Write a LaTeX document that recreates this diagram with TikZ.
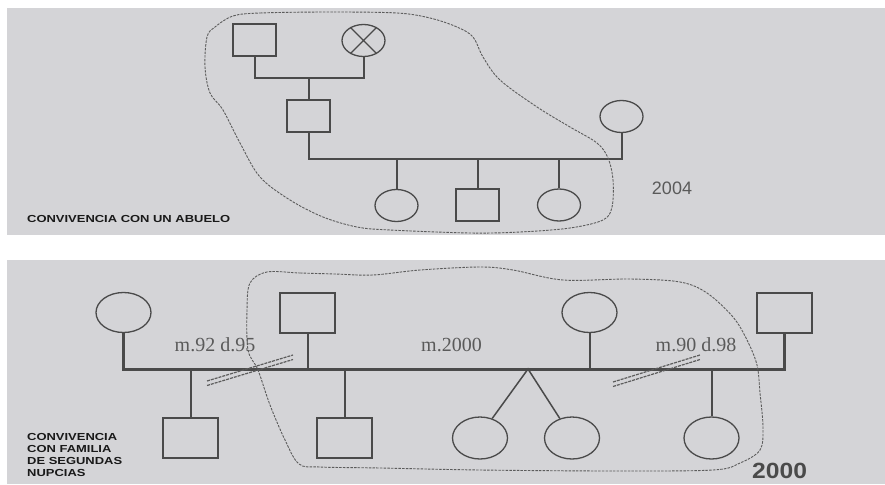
\documentclass[tikz,border=0pt]{standalone}
\usepackage{fontspec}
\usepackage{graphicx}
\setmainfont{Liberation Serif}
\setsansfont{Liberation Sans}
\usetikzlibrary{calc,shapes.geometric}

\definecolor{panel}{RGB}{212,212,215}
\definecolor{ink}{RGB}{74,74,74}
\definecolor{blob}{RGB}{92,92,92}
\definecolor{label}{RGB}{90,90,90}

\newcommand{\stretchtxt}[1]{\scalebox{1.27}[1]{#1}}

\tikzset{
  male/.style={rectangle, draw=ink, line width=1.4pt, inner sep=0pt,
    minimum width=43pt, minimum height=32pt},
  female/.style={ellipse, draw=ink, line width=1.3pt, inner sep=0pt,
    minimum width=43pt, minimum height=32pt},
  big/.style={minimum width=55pt, minimum height=40pt},
  kin/.style={draw=ink, line width=2pt},
  bond/.style={draw=ink, line width=3pt},
  home/.style={draw=blob, line width=0.9pt, dash pattern=on 2.5pt off 1.2pt},
  cut/.style={draw=blob, line width=1.2pt, dash pattern=on 3pt off 1pt},
  tag/.style={inner sep=0pt, text=black!90,
    font=\sffamily\bfseries\fontsize{10.2}{12.2}\selectfont},
  note/.style={inner sep=0pt, text=label, font=\fontsize{20}{20}\selectfont},
}

\begin{document}
\begin{tikzpicture}[x=1pt,y=-1pt]

% Page and the two grey panels
\fill[white] (0,0) rectangle (885,484);
\useasboundingbox (0,0) rectangle (885,484);
\fill[panel] (7,8) rectangle (885,235);
\fill[panel] (7,260) rectangle (885,484);

% ---------- Top panel ----------
% Grandparents, father, mother
\node[male] (gf) at (254.5,40) {};
\node[female] (gm) at (363.5,40.5) {};
\draw[ink, line width=1.1pt] (gm.45) -- (gm.225) (gm.135) -- (gm.315);
\node[male] (fa) at (308.5,116) {};
\node[female] (mo) at (621.5,116.5) {};

% Children
\node[female] (ca) at (396.5,205.5) {};
\node[male] (cb) at (477.5,205) {};
\node[female] (cc) at (559,205) {};

% Family lines
\coordinate (gp) at (308.5,78);
\coordinate (pa) at (621.5,159);
\draw[kin] (gf.south) |- (gp) -| (gm.south);
\draw[kin] (gp) -- (fa.north);
\draw[kin] (fa.south) |- (pa) -- (mo.south);
\foreach \c in {ca,cb,cc}
  \draw[kin] (\c.north) -- (\c.north |- pa);

% Household outline
\draw[home] plot[smooth cycle, tension=0.55] coordinates {
  (233,16) (260,13) (330,12) (397,13) (430,18) (457,27) (473,37)
  (483,57) (500,80) (537,107) (570,127) (597,143) (608,158) (613,180)
  (612,207) (603,220) (570,228) (520,232) (470,233) (390,230) (357,227)
  (323,217) (290,200) (260,177) (240,143) (223,110) (210,93) (205,67)
  (207,37) (215,27)};

% Texts
\node[tag, anchor=base west] (ttag) at (27,222) {\stretchtxt{CONVIVENCIA CON UN ABUELO}};
\node[inner sep=0pt, text=label, font=\sffamily\fontsize{18}{18}\selectfont] (tyear) at (672,188.5) {2004};

% ---------- Bottom panel ----------
% Couples
\node[female, big] (wa) at (123.5,312.5) {};
\node[male, big] (ha) at (307.5,313) {};
\node[female, big] (wb) at (589.5,312.5) {};
\node[male, big] (hb) at (784.5,313) {};

% Children
\node[male, big] (ka) at (190.5,438) {};
\node[male, big] (kb) at (344.5,438) {};
\node[female, big, minimum height=42pt] (ta) at (480,438) {};
\node[female, big, minimum height=42pt] (tb) at (572,438) {};
\node[female, big, minimum height=42pt] (kc) at (711.5,438) {};

% Marriage line and descent
\coordinate (ml) at (784.5,369);
\coordinate (apex) at (528,369);
\draw[bond] (wa.south) |- (ml) -- (hb.south);
\foreach \p in {ha,wb}
  \draw[kin] (\p.south) -- (\p.south |- ml);
\foreach \c in {ka,kb,kc}
  \draw[kin] (\c.north) -- (\c.north |- ml);
\draw[ink, line width=1.5pt] (ta.58) -- (apex) -- (tb.122);

% Divorce marks
\coordinate (da) at (207,383);
\coordinate (db) at (293,357);
\coordinate (dc) at (613,384);
\coordinate (dd) at (700,357);
\draw[cut] ($(da)+(0,-2)$) -- ($(db)+(0,-2)$);
\draw[cut] ($(da)+(0,2.5)$) -- ($(db)+(0,2.5)$);
\draw[cut] ($(dc)+(0,-2)$) -- ($(dd)+(0,-2)$);
\draw[cut] ($(dc)+(0,2.5)$) -- ($(dd)+(0,2.5)$);

% Household outline
\draw[home] plot[smooth cycle, tension=0.55] coordinates {
  (267,272) (300,273) (335,274) (373,275) (420,270) (480,267) (513,270)
  (563,280) (630,279) (680,282) (707,293) (733,317) (747,340) (757,365)
  (760,393) (763,427) (760,450) (740,463) (713,470) (613,471) (480,470)
  (380,468) (320,467) (299,464) (285,440) (270,405) (258,370) (248,350)
  (247,310) (250,283)};

% Texts
\node[note] (ma) at (215,345) {m.92 d.95};
\node[note] (mb) at (451.5,345) {m.2000};
\node[note] (mc) at (696,345) {m.90 d.98};
\node[tag, anchor=north west, align=left] (btag) at (27,433)
  {\stretchtxt{CONVIVENCIA}\\\stretchtxt{CON FAMILIA}\\\stretchtxt{DE SEGUNDAS}\\\stretchtxt{NUPCIAS}};
\node[anchor=base west, inner sep=0pt, text=ink,
  font=\sffamily\bfseries\fontsize{22}{22}\selectfont] (byear) at (752,478) {\scalebox{1.12}[1]{2000}};

\end{tikzpicture}
\end{document}
